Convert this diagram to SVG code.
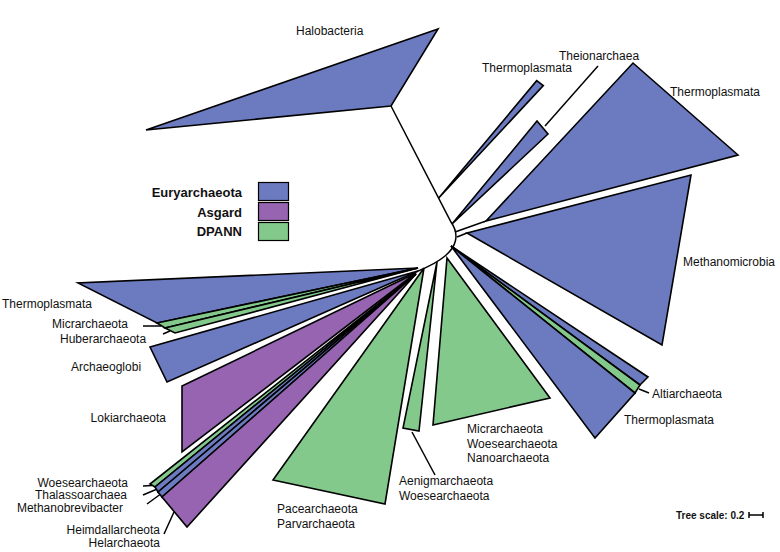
<svg xmlns="http://www.w3.org/2000/svg" width="780" height="552" viewBox="0 0 780 552">
<style>
.c{stroke:#000;stroke-width:1.6;stroke-linejoin:miter}
.e{fill:#6c7ac0}
.a{fill:#9664b0}
.d{fill:#84c98c}
.l{fill:none;stroke:#000;stroke-width:1.5}
text{font-family:"Liberation Sans",Arial,sans-serif;font-size:12px;fill:#111}
.b{font-weight:bold;font-size:13px}
.end{text-anchor:end}
</style>
<rect width="780" height="552" fill="#fff"/>
<g id="connectors">
<path class="l" d="M391,106 L451,222 C460,235 456,247 445,256 C437,263 428,267 416,272"/>
<path class="l" d="M455,232 L486,221 M457,237 L467,233"/>
<path class="l" d="M545,126 L598,66"/>
<path class="l" d="M639,389 L649,393"/>
<path class="l" d="M412,432 L435,475"/>
<path class="l" d="M143,326 L161,326 M163,334 L170,331"/>
<path class="l" d="M143,486 L152,485.5 M143,495 L156,489.5 M147,504 L160,494.5 M164,534 L174,512"/>
</g>
<g id="halobacteria"><polygon class="c e" points="391,106 146,130 438,29"/><text x="296" y="35">Halobacteria</text></g>
<g id="thermoplasmata-sliver"><polygon class="c e" points="438.7,198 536.7,80.7 543.3,85.5"/><text x="482" y="72">Thermoplasmata</text></g>
<g id="theionarchaea"><polygon class="c e" points="452,224 537,121 548,134"/><text x="559" y="60">Theionarchaea</text></g>
<g id="thermoplasmata-tr"><polygon class="c e" points="486,221 633,63 738,155"/><text x="670" y="96">Thermoplasmata</text></g>
<g id="methanomicrobia"><polygon class="c e" points="467,233 691,175 662,345"/><text x="683" y="266">Methanomicrobia</text></g>
<g id="altiarchaeota-bundle">
<polygon class="c e" points="451,246 648,377 640,385"/>
<polygon class="c d" points="451,246 640,385 635,393"/>
<polygon class="c e" points="451,246 635,393 595,438"/>
<text x="652" y="398">Altiarchaeota</text><text x="624" y="423.5">Thermoplasmata</text>
</g>
<g id="micr-woes-nano"><polygon class="c d" points="447,258 550,398 433,425"/><text x="467" y="432.5">Micrarchaeota</text><text x="467" y="447.5">Woesearchaeota</text><text x="467" y="462">Nanoarchaeota</text></g>
<g id="aenigmarchaeota"><polygon class="c d" points="437,262 419,431 403,428"/><text x="399" y="485">Aenigmarchaeota</text><text x="399" y="500">Woesearchaeota</text></g>
<g id="pacearchaeota"><polygon class="c d" points="424,268 385,504 273,480"/><text x="277" y="512.5">Pacearchaeota</text><text x="277" y="527.5">Parvarchaeota</text></g>
<g id="thermoplasmata-left"><polygon class="c e" points="418,268 78,283 157,323"/><text x="2" y="307.5">Thermoplasmata</text></g>
<g id="micrarchaeota-left"><polygon class="c d" points="418,268 157,323 165,328"/><text x="52" y="327.5">Micrarchaeota</text></g>
<g id="huberarchaeota"><polygon class="c d" points="418,268 165,328 175,333"/><text x="60" y="342.5">Huberarchaeota</text></g>
<g id="archaeoglobi"><polygon class="c e" points="418,271 150,347 167,382"/><text x="71" y="371">Archaeoglobi</text></g>
<g id="lokiarchaeota"><polygon class="c a" points="416,273 182,386 182,452"/><text class="end" x="166" y="422">Lokiarchaeota</text></g>
<g id="woesearchaeota-left"><polygon class="c d" points="416,274 150,484 155,487"/><text class="end" x="128" y="486.5">Woesearchaeota</text></g>
<g id="thalassoarchaea"><polygon class="c e" points="416,274 155,487 158,492"/><text class="end" x="127" y="499">Thalassoarchaea</text></g>
<g id="methanobrevibacter"><polygon class="c e" points="416,274 158,492 162,497"/><text class="end" x="123" y="511.5">Methanobrevibacter</text></g>
<g id="helarchaeota"><polygon class="c a" points="416,274 162,497 187,527"/><text class="end" x="160" y="533.5">Heimdallarcheota</text><text class="end" x="160" y="547">Helarchaeota</text></g>
<g id="legend">
<text class="b end" x="242" y="197">Euryarchaeota</text>
<text class="b end" x="242" y="216.5">Asgard</text>
<text class="b end" x="242" y="236">DPANN</text>
<rect class="e" x="258.5" y="182.5" width="30" height="18" stroke="#000" stroke-width="1.2"/>
<rect class="a" x="258.5" y="202.5" width="30" height="18" stroke="#000" stroke-width="1.2"/>
<rect class="d" x="258.5" y="222.5" width="30" height="18" stroke="#000" stroke-width="1.2"/>
</g>
<g id="tree-scale">
<text x="676" y="519" style="font-weight:bold;font-size:10px">Tree scale: 0.2</text>
<path class="l" d="M749,515 H763 M749,512 V518 M763,512 V518"/>
</g>
</svg>
